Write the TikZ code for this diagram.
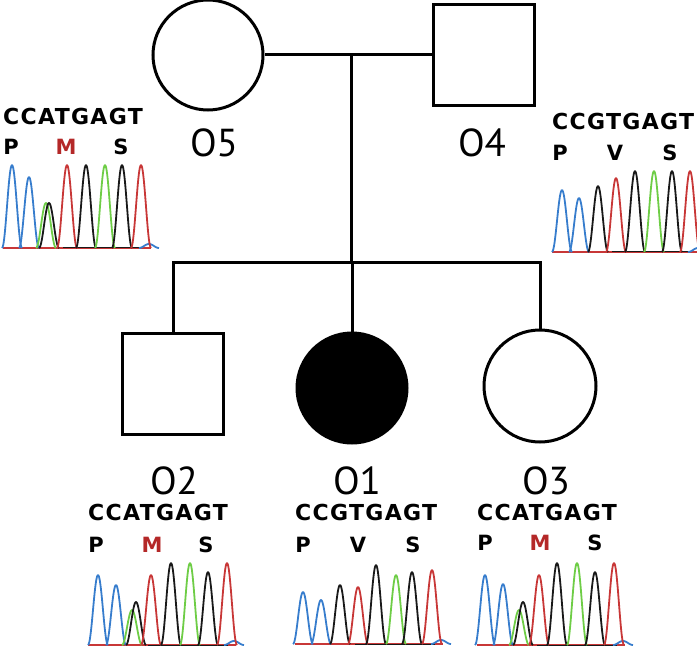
\documentclass[tikz,border=0pt]{standalone}
\usepackage{fontspec}
\setmainfont{PT Sans}
\newfontfamily\seqfont{DejaVu Sans}[LetterSpace=6]
\newfontfamily\aafont{DejaVu Sans}
\definecolor{tblue}{RGB}{55,125,205}
\definecolor{tgreen}{RGB}{110,205,70}
\definecolor{tred}{RGB}{200,55,55}
\definecolor{tblack}{RGB}{25,25,25}
\definecolor{mred}{RGB}{180,40,40}
\tikzset{
  ped/.style={draw=black, line width=3pt},
  pedline/.style={line width=3pt},
  female/.style={ped, circle, inner sep=0pt},
  male/.style={ped, rectangle, inner sep=0pt},
  idlabel/.style={inner sep=0pt, font=\fontsize{39}{39}\selectfont},
  seqtext/.style={inner sep=0pt, anchor=west, font=\seqfont\bfseries\fontsize{22}{22}\selectfont},
  aatext/.style={inner sep=0pt, font=\aafont\bfseries\fontsize{21}{21}\selectfont},
  trace/.style={line width=1.8pt, line join=round},
}
\newcommand{\pk}[4]{%
  \pgfmathsetmacro\pkc{#2}%
  \pgfmathsetmacro\pka{\pkc-10}\pgfmathsetmacro\pkb{\pkc+10}%
  \draw[trace,#1] plot[domain=\pka:\pkb,samples=30,smooth] (\x,{#4-#3*(1+cos(18*(\x-\pkc)))/2});}
\newcommand{\basel}[2]{%
  \draw[trace,tred] (#1,#2) -- ++(148,0);
  \draw[trace,tblack,line width=1pt] (#1+60,#2) -- ++(80,0);
  \pk{tblue}{#1+146}{4}{#2}}
\begin{document}
\begin{tikzpicture}[x=1pt,y=-1pt]
\useasboundingbox (0,0) rectangle (697,650);
\clip (0,0) rectangle (697,650);
% pedigree
\node[female, minimum size=110pt] (O5) at (208,55) {};
\node[male, minimum size=101pt] (O4) at (484,55) {};
\node[male, minimum size=101pt] (O2) at (173,384) {};
\node[female, fill=black, minimum size=110pt] (O1) at (352,388) {};
\node[female, minimum size=112pt] (O3) at (540,386) {};
\coordinate (mate) at (351,55);
\coordinate (sib) at (351,263);
\draw[pedline] (O5.east) -- (O4.west);
\draw[pedline] (mate) -- (sib);
\draw[pedline] (O2.north) |- (sib) -| (O3.north);
\draw[pedline] (O1.north) -- (O1.north |- sib);
% labels
\node[idlabel] (l5) at (214,143) {O5};
\node[idlabel] (l4) at (482,143) {O4};
\node[idlabel] (l2) at (174,481) {O2};
\node[idlabel] (l1) at (357,481) {O1};
\node[idlabel] (l3) at (546,481) {O3};
% O5 chromatogram
\node[seqtext] (s5) at (3,116) {CCATGAGT};
\node[aatext] (a5p) at (11,147) {P};
\node[aatext,text=mred] (a5m) at (66,147) {M};
\node[aatext] (a5s) at (121,147) {S};
\basel{3}{248}
\pk{tblue}{12}{83}{248}\pk{tblue}{29}{71}{248}\pk{tgreen}{46}{45}{248}\pk{tblack}{49}{45}{248}
\pk{tred}{67}{83}{248}\pk{tblack}{86}{83}{248}\pk{tgreen}{105}{83}{248}\pk{tblack}{122}{83}{248}\pk{tred}{141}{83}{248}
% O4 chromatogram
\node[seqtext] (s4) at (552,121) {CCGTGAGT};
\node[aatext] (a4p) at (560,153) {P};
\node[aatext] (a4v) at (615,153) {V};
\node[aatext] (a4s) at (670,153) {S};
\basel{552}{252}
\pk{tblue}{562}{62}{252}\pk{tblue}{579}{54}{252}\pk{tblack}{598}{66}{252}\pk{tred}{616}{74}{252}
\pk{tblack}{635}{81}{252}\pk{tgreen}{654}{81}{252}\pk{tblack}{672}{81}{252}\pk{tred}{690}{81}{252}
% O2 chromatogram
\node[seqtext] (s2) at (88,512) {CCATGAGT};
\node[aatext] (a2p) at (96,545) {P};
\node[aatext,text=mred] (a2m) at (152,545) {M};
\node[aatext] (a2s) at (206,545) {S};
\basel{88}{645}
\pk{tblue}{98}{70}{645}\pk{tblue}{116}{60}{645}\pk{tgreen}{132}{35}{645}\pk{tblack}{136}{43}{645}
\pk{tred}{151}{70}{645}\pk{tblack}{171}{82}{645}\pk{tgreen}{190}{82}{645}\pk{tblack}{208}{73}{645}\pk{tred}{227}{82}{645}
% O1 chromatogram
\node[seqtext] (s1) at (295,512) {CCGTGAGT};
\node[aatext] (a1p) at (303,545) {P};
\node[aatext] (a1v) at (358,545) {V};
\node[aatext] (a1s) at (413,545) {S};
\basel{295}{644}
\pk{tblue}{303}{52}{644}\pk{tblue}{321}{44}{644}\pk{tblack}{340}{59}{644}\pk{tred}{358}{57}{644}
\pk{tblack}{376}{79}{644}\pk{tgreen}{396}{69}{644}\pk{tblack}{412}{72}{644}\pk{tred}{432}{74}{644}
% O3 chromatogram
\node[seqtext] (s3) at (477,512) {CCATGAGT};
\node[aatext] (a3p) at (485,543) {P};
\node[aatext,text=mred] (a3m) at (540,543) {M};
\node[aatext] (a3s) at (595,543) {S};
\basel{477}{645}
\pk{tblue}{485}{70}{645}\pk{tblue}{503}{61}{645}\pk{tgreen}{519}{35}{645}\pk{tblack}{523}{43}{645}
\pk{tred}{539}{70}{645}\pk{tblack}{557}{82}{645}\pk{tgreen}{577}{82}{645}\pk{tblack}{595}{73}{645}\pk{tred}{614}{82}{645}
\end{tikzpicture}
\end{document}
